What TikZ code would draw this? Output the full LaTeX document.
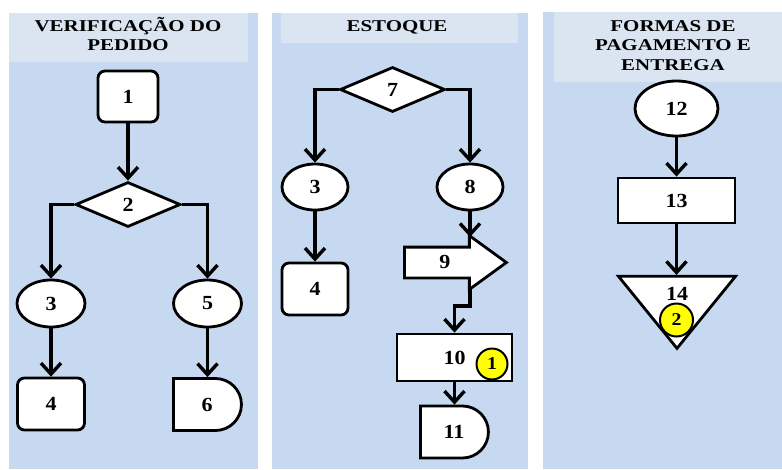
\documentclass[tikz,border=0pt]{standalone}
\usepackage{fontspec}
\setmainfont{Liberation Serif}
\usepackage{graphicx}
\usetikzlibrary{arrows.meta,shapes.geometric,shapes.misc,shapes.arrows,positioning}
\definecolor{panelblue}{RGB}{198,217,240}
\definecolor{headblue}{RGB}{219,229,241}
\definecolor{markyellow}{RGB}{255,255,0}

\newcommand{\numfont}{\fontsize{20}{20}\selectfont\bfseries}
\newcommand{\headfont}{\fontsize{16.5}{19.5}\selectfont\bfseries}
\newcommand{\widen}[1]{\scalebox{1.1}[1]{#1}}
\newcommand{\headlines}[1]{\scalebox{1.27}[1]{\begin{tabular}{@{}c@{}}#1\end{tabular}}}

\tikzset{
  shapeline/.style={draw=black, line width=2.8pt, fill=white, font=\numfont, inner sep=0pt},
  rbox/.style={shapeline, rectangle, rounded corners=7pt, minimum width=60pt, minimum height=51pt},
  proc/.style={shapeline, rectangle, minimum width=117pt, minimum height=45pt},
  oval/.style={shapeline, ellipse, minimum width=68pt, minimum height=47pt},
  decision/.style={shapeline, diamond, minimum width=105pt, minimum height=45pt},
  delay/.style={shapeline, rounded rectangle, rounded rectangle west arc=none,
    minimum width=68pt, minimum height=52pt},
  moveout/.style={shapeline, single arrow, single arrow head extend=11.5pt,
    single arrow tip angle=72, minimum height=102pt, minimum width=51pt,
    text height=12pt, text depth=0pt, inner ysep=8pt},
  merge/.style={shapeline, isosceles triangle, shape border rotate=-90,
    isosceles triangle stretches, minimum width=117pt, minimum height=72pt},
  badge/.style={circle, draw=black, line width=2pt, fill=markyellow,
    font=\fontsize{18}{18}\selectfont\bfseries, inner sep=0pt, minimum size=31pt},
  headtext/.style={font=\headfont, inner sep=0pt},
  flow/.style={line width=3.4pt, -{Straight Barb[length=11pt,width=20pt]}}
}

\begin{document}
\begin{tikzpicture}[x=1pt,y=-1pt]
\useasboundingbox (0,0) rectangle (782,469);

% Panels and headers
\fill[panelblue] (9,13) rectangle (258,469);
\fill[headblue] (9,13) rectangle (248,62);
\fill[panelblue] (272,13) rectangle (528,469);
\fill[headblue] (281,13) rectangle (518,43);
\fill[panelblue] (543,12) rectangle (782,469);
\fill[headblue] (554,12) rectangle (782,82);

\node[headtext] (hv) at (128,37) {\headlines{VERIFICAÇÃO DO\\PEDIDO}};
\node[headtext] (he) at (397,28) {\headlines{ESTOQUE}};
\node[headtext] (hf) at (673,47) {\headlines{FORMAS DE\\PAGAMENTO E\\ENTREGA}};

% Verificacao do pedido
\node[rbox] (v1) at (128,96.5) {\widen{1}};
\node[decision] (v2) at (128,204.5) {\widen{2}};
\node[oval] (v3) at (51,303.5) {\widen{3}};
\node[oval] (v5) at (207.5,303.5) {\widen{5}};
\node[rbox, minimum width=67pt, minimum height=52pt] (v4) at (51,404) {\widen{4}};
\node[delay] (v6) at (207,404.5) {\widen{6}};

\draw[flow] (v1.south) -- (v1.south |- v2.north);
\draw[flow] (v2.west) -| (v3);
\draw[flow] (v2.east) -| (v5);
\draw[flow] (v3) -- (v4);
\draw[flow] (v5.south) -- (v5.south |- v6.north);

% Estoque
\node[decision] (e7) at (392.5,89.5) {\widen{7}};
\node[oval, minimum width=66pt, minimum height=46pt] (e3) at (315,187) {\widen{3}};
\node[oval, minimum width=66pt, minimum height=46pt] (e8) at (470,187) {\widen{8}};
\node[rbox, minimum width=66pt, minimum height=52pt] (e4) at (315,289) {\widen{4}};
\node[moveout, anchor=tail] (e9) at (403,262.5) {\widen{9}};
\node[proc, minimum width=115pt, minimum height=47pt] (e10) at (454.5,357.5) {\widen{10}};
\node[badge] (b1) at (492,364) {\widen{1}};
\node[delay] (e11) at (454,432) {\widen{11}};

\coordinate (h9top) at (470,237);
\coordinate (h9bot) at (470,288);
\coordinate (h9bend) at (470,306);

\draw[flow] (e7.west) -| (e3);
\draw[flow] (e7.east) -| (e8);
\draw[flow] (e3) -- (e4);
\draw[flow] (e8) -- (h9top);
\draw[flow] (h9bot) -- (h9bend) -| (e10.north);
\draw[flow] (e10.south) -- (e10.south |- e11.north);

% Formas de pagamento e entrega
\node[oval, minimum width=83pt, minimum height=55pt] (f12) at (676.5,108.5) {\widen{12}};
\node[proc] (f13) at (676.5,200.5) {\widen{13}};
\node[merge, anchor=apex] (f14) at (677,352) {};
\node[font=\numfont, inner sep=0pt] (l14) at (677,294) {\widen{14}};
\node[badge, minimum size=33pt] (b2) at (676.5,320) {\widen{2}};

\draw[flow] (f12) -- (f13);
\draw[flow] (f13.south) -- (f13.south |- f14.north);

\end{tikzpicture}
\end{document}
